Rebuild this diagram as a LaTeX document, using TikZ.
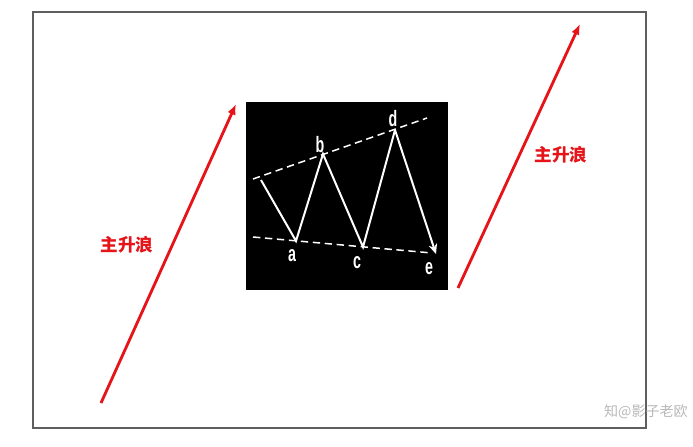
\documentclass[tikz,border=0pt]{standalone}
\usepackage{fontspec}
\newfontfamily\cjk{Noto Sans CJK SC}
\newfontfamily\labelfont[FakeStretch=0.64]{Liberation Sans}
\usetikzlibrary{arrows.meta}
\definecolor{wavered}{RGB}{230,20,25}
\definecolor{framegray}{RGB}{95,95,95}
\tikzset{
	trend/.style={draw=wavered, line width = 0.85mm, -{Latex[length=3.2mm,width=2.6mm]}},
	wave/.style={draw=white, line width = 0.6mm},
	band/.style={draw=white, line width = 0.45mm, dash pattern=on 2.2mm off 1.4mm},
	ptlabel/.style={text=white, font=\labelfont\bfseries\fontsize{19}{19}\selectfont, inner sep=0pt},
	redlabel/.style={text=wavered, font=\cjk\bfseries\fontsize{15}{15}\selectfont, inner sep=0pt}
}
\begin{document}
\begin{tikzpicture}[x=0.03cm, y=-0.03cm]
		
		\useasboundingbox[fill=white] (0,0) rectangle (693,447);
		
		\draw[framegray, line width = 0.55mm] (33,12) rectangle (646,428);
		
		\fill[black] (246,102) rectangle (448,290);
		
		\coordinate (start) at (261,180);
		\coordinate (a) at (296,241);
		\coordinate (b) at (323,154);
		\coordinate (c) at (363,247);
		\coordinate (d) at (395,130);
		\coordinate (e) at (436,254);
		
		\coordinate (upL) at (253,179);
		\coordinate (upR) at (427,118);
		\coordinate (loL) at (253,237);
		\coordinate (loR) at (432,253);
		
		\draw[band] (upL) -- (upR);
		\draw[band] (loL) -- (loR);
		
		\draw[wave, line join=miter] (start) -- (a) -- (b) -- (c) -- (d);
		\draw[wave, -{Stealth[length=3mm,width=2.6mm]}] (d) -- (e);
		
		\node[ptlabel] (la) at (292,256) {a};
		\node[ptlabel] (lb) at (320,145) {b};
		\node[ptlabel] (lc) at (357,263) {c};
		\node[ptlabel] (ld) at (393,119) {d};
		\node[ptlabel] (le) at (429,269) {e};
		
		
		\coordinate (leftfoot) at (101,403);
		\coordinate (lefthead) at (236,104);
		\coordinate (rightfoot) at (458,288);
		\coordinate (righthead) at (580,24);
		
		\draw[trend] (leftfoot) -- (lefthead);
		\draw[trend] (rightfoot) -- (righthead);
		
		\node[redlabel] (mainL) at (127,245) {主升浪};
		\node[redlabel] (mainR) at (561,155) {主升浪};
		
		\node[text=gray!55, font=\cjk\fontsize{12}{12}\selectfont, anchor=east, inner sep=0pt] (mark) at (688,412) {知@影子老欧};
		
	\end{tikzpicture}
\end{document}
